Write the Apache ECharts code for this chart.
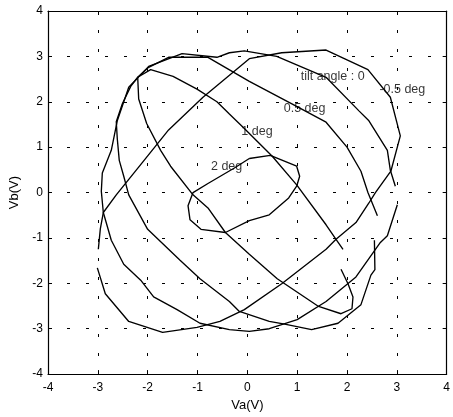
<!DOCTYPE html>
<html><head><meta charset="utf-8">
<script src="https://cdn.jsdelivr.net/npm/echarts@6/dist/echarts.min.js"></script>
<style>html,body{margin:0;padding:0;background:#fff}#c{width:453px;height:417px}</style>
</head><body><div id="c"></div>
<script>
// tick values
const ticks = [-4,-3,-2,-1,0,1,2,3,4];
// curves (Va, Vb) pairs
const tilt0 = [[2.97,0.14],[2.87,0.49],[2.81,0.93],[2.44,1.58],[2.24,1.8],[1.58,2.54],[0.59,3.0],[-0.06,3.12],[-0.36,3.08],[-0.61,2.98],[-1.31,3.06],[-1.98,2.78],[-2.38,2.32],[-2.61,1.58],[-2.73,0.93],[-2.91,0.43],[-2.93,0.03],[-2.89,-0.44],[-2.73,-1.05],[-2.48,-1.58],[-2.14,-1.93],[-1.88,-2.3],[-1.41,-2.58],[-0.95,-2.88],[-0.36,-3.02],[0.04,-3.06],[0.44,-3.0],[1.0,-2.8],[1.58,-2.4],[2.18,-1.86],[2.67,-1.1],[2.81,-0.95],[3.01,-0.27]];
const tiltM05 = [[-3.01,-1.66],[-2.85,-2.23],[-2.38,-2.84],[-1.70,-3.08],[-1.01,-2.97],[-0.55,-2.84],[-0.06,-2.58],[0.69,-2.01],[1.58,-1.25],[1.78,-1.03],[2.18,-0.66],[2.44,-0.23],[2.57,0.0],[2.88,0.47],[3.07,1.25],[2.87,2.1],[2.42,2.71],[1.58,3.14],[0.69,3.08],[0.04,2.95],[-0.89,2.1],[-1.58,1.38],[-2.1,0.67],[-2.63,-0.05],[-2.89,-0.44],[-2.95,-0.8],[-2.99,-1.25]];
const tilt05 = [[2.61,-0.51],[2.42,0.0],[2.28,0.47],[2.0,1.0],[1.58,1.55],[0.97,1.91],[0.04,2.45],[-0.79,2.98],[-1.58,2.98],[-1.98,2.76],[-2.2,2.54],[-2.34,2.34],[-2.51,1.95],[-2.63,1.56],[-2.61,1.19],[-2.57,0.71],[-2.48,0.36],[-2.38,-0.05],[-2.0,-0.81],[-1.35,-1.49],[-0.95,-1.9],[-0.36,-2.4],[-0.16,-2.62],[0.44,-2.84],[0.75,-2.9],[1.29,-3.02],[1.82,-2.88],[2.28,-2.47],[2.48,-1.82],[2.56,-1.7],[2.55,-1.05]];
const tilt1 = [[1.92,-1.25],[1.78,-1.03],[1.58,-0.71],[0.99,0.17],[0.5,0.8],[-0.06,1.41],[-0.36,1.73],[-0.61,2.0],[-1.01,2.28],[-1.49,2.56],[-1.94,2.71],[-2.2,2.54],[-2.18,2.06],[-2.02,1.52],[-1.74,0.93],[-1.54,0.58],[-1.09,-0.05],[-0.79,-0.34],[-0.44,-0.88],[0.04,-1.36],[0.6,-1.9],[1.43,-2.51],[1.88,-2.67],[2.1,-2.56],[2.12,-2.3],[2.02,-2.01],[1.88,-1.69]];
const tilt2 = [[0.04,0.75],[0.46,0.82],[0.99,0.58],[1.05,0.36],[0.99,0.14],[0.83,-0.12],[0.44,-0.49],[0.04,-0.62],[-0.44,-0.88],[-0.93,-0.81],[-1.15,-0.6],[-1.19,-0.29],[-1.09,0.0],[-0.79,0.2],[-0.26,0.54],[0.04,0.75]];
// annotation texts and their anchor points (data units)
const labelTexts = ['tilt angle : 0','-0.5 deg','0.5 deg','1 deg','2 deg'];
const labelAnchors = [[1.07,2.56],[2.65,2.26],[0.73,1.84],[-0.12,1.34],[-0.73,0.58]];

const FONT = '"Liberation Sans", Arial, Helvetica, sans-serif';
const chart = echarts.init(document.getElementById('c'), null, {renderer:'canvas'});
function axisBase(extra){
  return Object.assign({
    type:'value', min:ticks[0], max:ticks[ticks.length-1], interval:1,
    axisLine:{show:true, onZero:false, lineStyle:{color:'#000', width:1.2}},
    axisTick:{show:true, inside:true, length:4, lineStyle:{color:'#000', width:1}},
    axisLabel:{show:true, color:'#000', fontSize:12, fontFamily:FONT, margin:8,
      formatter:v=>String(v)},
    splitLine:{show:false}
  }, extra||{});
}
const lineSeries = (data)=>({type:'line', data:data, showSymbol:false, symbol:'none', smooth:false,
  lineStyle:{color:'#000', width:1.35}, animation:false, z:3});
const labelData = labelTexts.map((t,i)=>({name:t, value:labelAnchors[i]}));
chart.setOption({
  animation:false,
  backgroundColor:'#fff',
  grid:{left:46, right:3, top:11, bottom:39, show:false},
  xAxis:[
    axisBase({position:'bottom', name:'Va(V)', nameLocation:'middle', nameGap:22,
      nameTextStyle:{color:'#000', fontSize:13, fontFamily:FONT},
      splitLine:{show:true, lineStyle:{color:'#000', width:1, type:[3,16]}}}),
    axisBase({position:'top', axisLabel:{show:false}})
  ],
  yAxis:[
    axisBase({position:'left', name:'Vb(V)', nameLocation:'middle', nameGap:27,
      nameTextStyle:{color:'#000', fontSize:13, fontFamily:FONT},
      axisLabel:{show:true, color:'#000', fontSize:12, fontFamily:FONT, margin:5, formatter:v=>String(v)},
      splitLine:{show:true, lineStyle:{color:'#000', width:1, type:[3,16]}}}),
    axisBase({position:'right', axisLabel:{show:false}})
  ],
  series:[
    lineSeries(tilt0), lineSeries(tiltM05), lineSeries(tilt05), lineSeries(tilt1), lineSeries(tilt2),
    {type:'scatter', data:labelData, symbolSize:0, z:5, animation:false,
      label:{show:true, position:'right', distance:0, formatter:p=>p.name, color:'#000',
        fontSize:12.5, fontFamily:FONT, verticalAlign:'middle'}}
  ]
});
</script></body></html>
